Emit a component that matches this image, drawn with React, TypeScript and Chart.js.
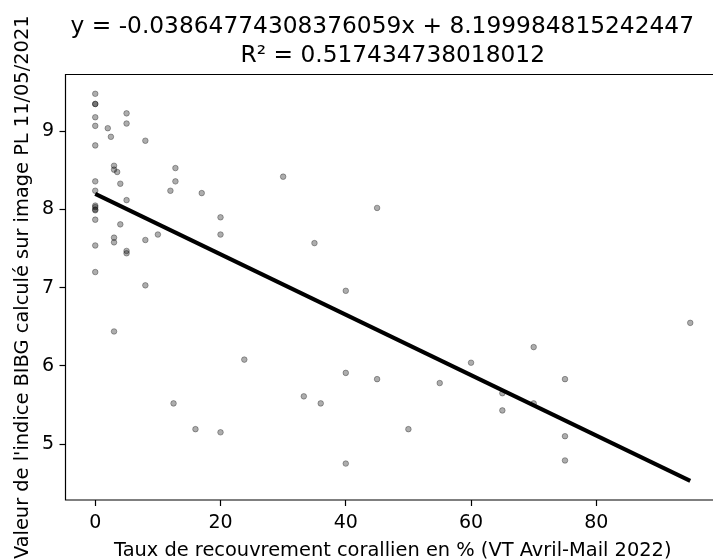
import React, { useEffect, useRef } from "react";
import { Chart, registerables } from "chart.js";

Chart.register(...registerables);

// Scatter points (x: coral cover %, y: BIBG index)
const pointsX = [
  0, 0, 0, 0, 0, 0, 0, 0, 0, 0, 0, 0, 0, 0, 0,
  2, 2.5, 3, 3, 3, 3, 3, 3.5, 4, 4,
  5, 5, 5, 5, 5, 8, 8, 8, 10, 12, 12.5, 12.8, 12.8, 16, 17,
  20, 20, 20, 23.8, 30, 33.3, 35, 36, 40, 40, 40, 45, 45, 50, 55, 60,
  65, 65, 70, 70, 75, 75, 75, 95,
];
const pointsY = [
  9.48, 9.35, 9.35, 9.18, 9.07, 8.82, 8.36, 8.24, 8.05, 8.03, 8.0, 7.99, 7.87, 7.54, 7.2,
  9.04, 8.93, 8.56, 8.51, 7.64, 7.58, 6.44, 8.48, 8.33, 7.81,
  9.23, 9.1, 8.12, 7.47, 7.44, 8.88, 7.61, 7.03, 7.68, 8.24, 5.52, 8.53, 8.36, 5.19, 8.21,
  7.9, 7.68, 5.15, 6.08, 8.42, 5.61, 7.57, 5.52, 6.96, 5.91, 4.75, 8.02, 5.83, 5.19, 5.78, 6.04,
  5.65, 5.43, 6.24, 5.52, 5.83, 5.1, 4.79, 6.55,
];

// Regression line end points
const lineX = [0, 95];
const lineY = [8.2, 4.528];

const xTicks = [0, 20, 40, 60, 80];
const yTicks = [5, 6, 7, 8, 9];
const xLimits = [-4.75, 99.75];
const yLimits = [4.284, 9.727];

const titleLines = [
  "y = -0.03864774308376059x + 8.199984815242447",
  "R\u00b2 = 0.517434738018012",
];
const xLabel = "Taux de recouvrement corallien en % (VT Avril-Mail 2022)";
const yLabel = "Valeur de l'indice BIBG calculé sur image PL 11/05/2021";

const FONT = "'DejaVu Sans', sans-serif";

const textPlugin = {
  id: "mplText",
  afterDatasetsDraw(chart: any) {
    const { ctx, chartArea } = chart;
    const { left, right, top, bottom } = chartArea;
    ctx.save();
    ctx.strokeStyle = "#000";
    ctx.lineWidth = 1.2;
    ctx.beginPath();
    ctx.moveTo(right + 5, top);
    ctx.lineTo(left, top);
    ctx.lineTo(left, bottom);
    ctx.lineTo(right + 5, bottom);
    ctx.stroke();
    ctx.restore();
  },
  afterDraw(chart: any) {
    const { ctx, chartArea } = chart;
    const cx = (chartArea.left + chartArea.right) / 2;
    const cy = (chartArea.top + chartArea.bottom) / 2;
    ctx.save();
    ctx.fillStyle = "#000";
    ctx.textAlign = "center";
    ctx.textBaseline = "alphabetic";
    ctx.font = `23.3px ${FONT}`;
    ctx.fillText(titleLines[0], cx - 10.5, 33);
    ctx.fillText(titleLines[1], cx, 62);
    ctx.font = `19.4px ${FONT}`;
    ctx.fillText(xLabel, cx, 556);
    ctx.translate(28, cy);
    ctx.rotate(-Math.PI / 2);
    ctx.fillText(yLabel, 0, 0);
    ctx.restore();
  },
};

export default function App() {
  const ref = useRef<HTMLCanvasElement>(null);
  useEffect(() => {
    if (!ref.current) return;
    const scatter = pointsX.map((x, i) => ({ x, y: pointsY[i] }));
    const line = lineX.map((x, i) => ({ x, y: lineY[i] }));
    const chart = new Chart(ref.current, {
      type: "scatter",
      data: {
        datasets: [
          {
            data: line,
            showLine: true,
            borderColor: "#000",
            borderWidth: 4,
            pointRadius: 0,
            fill: false,
          },
          {
            data: scatter,
            backgroundColor: "rgba(0,0,0,0.32)",
            borderColor: "rgba(0,0,0,0.32)",
            borderWidth: 1,
            pointRadius: 2.8,
          },
        ],
      },
      options: {
        animation: false,
        responsive: false,
        devicePixelRatio: 1,
        layout: { padding: { top: 74.5, right: 20, bottom: 0, left: 0 } },
        plugins: { legend: { display: false }, tooltip: { enabled: false }, title: { display: false } },
        scales: {
          x: {
            type: "linear",
            min: xLimits[0],
            max: xLimits[1],
            afterBuildTicks: (s: any) => { s.ticks = xTicks.map((v) => ({ value: v })); },
            afterFit: (s: any) => { s.height = 59; },
            border: { display: false },
            grid: { display: true, drawOnChartArea: false, drawTicks: true, tickLength: 6, tickColor: "#000", tickWidth: 1.2 },
            ticks: { color: "#000", font: { family: FONT, size: 19 }, padding: 6, maxRotation: 0, autoSkip: false },
          },
          y: {
            type: "linear",
            min: yLimits[0],
            max: yLimits[1],
            afterBuildTicks: (s: any) => { s.ticks = yTicks.map((v) => ({ value: v })); },
            afterFit: (s: any) => { s.width = 65.5; },
            border: { display: false },
            grid: { display: true, drawOnChartArea: false, drawTicks: true, tickLength: 6, tickColor: "#000", tickWidth: 1.2 },
            ticks: { color: "#000", font: { family: FONT, size: 19 }, padding: 5.5, autoSkip: false },
          },
        },
      },
      plugins: [textPlugin],
    });
    return () => chart.destroy();
  }, []);
  return (
    <div style={{ position: "fixed", left: 0, top: 0, width: 713, height: 559, overflow: "hidden", background: "#fff" }}>
      <canvas ref={ref} width={740} height={559} style={{ width: 740, height: 559, display: "block" }} />
    </div>
  );
}
